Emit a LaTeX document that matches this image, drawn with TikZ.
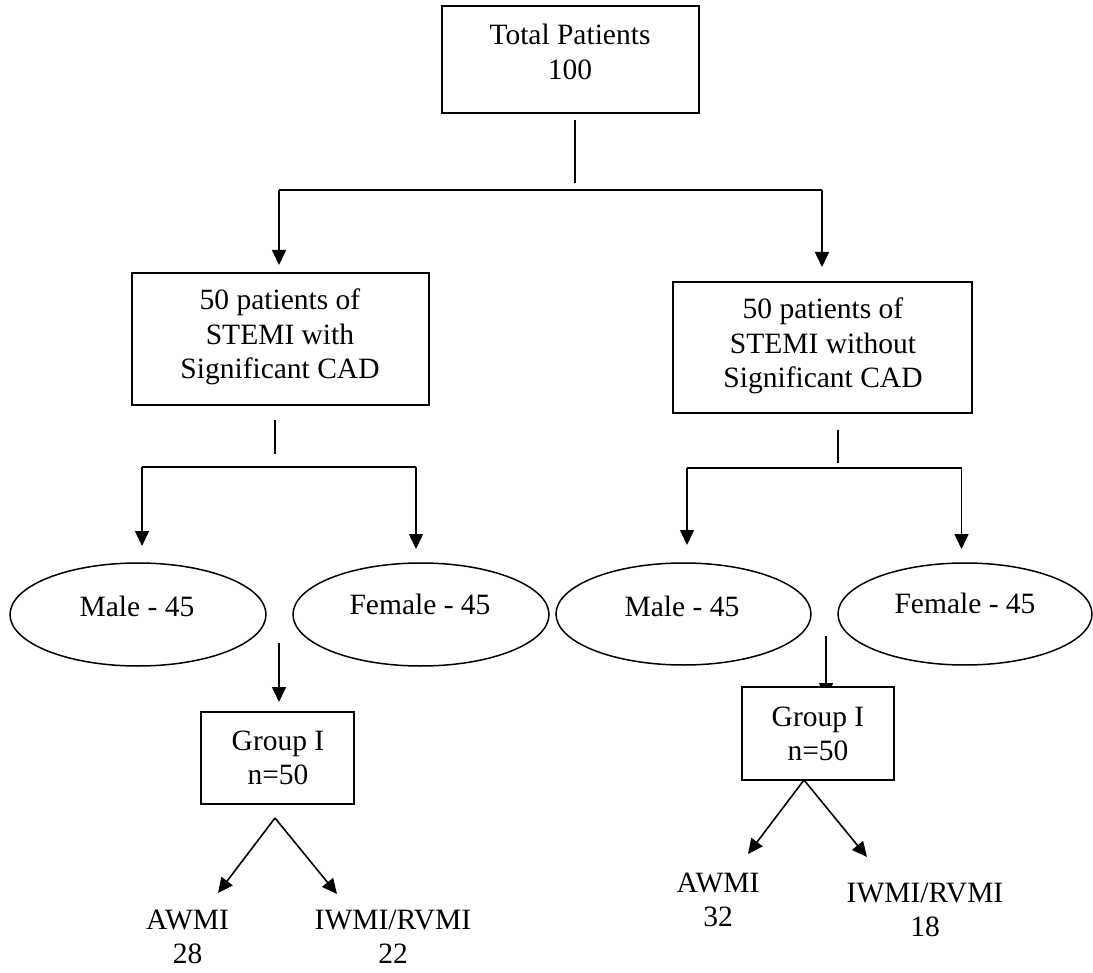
\documentclass[tikz,border=0pt]{standalone}
\usepackage{fontspec}
\setmainfont{Liberation Serif}
\usetikzlibrary{arrows.meta,shapes.geometric}
\newcommand{\mlines}[1]{\vtop{\halign{\hfil##\hfil\cr#1\crcr}}}
\begin{document}
\begin{tikzpicture}[x=1pt,y=-1pt,
  ln/.style={line width=1.6pt},
  arr/.style={line width=1.6pt,-{Triangle[length=15pt,width=14pt]}},
  boxn/.style={draw,line width=1.8pt,fill=white,rectangle,inner sep=0pt},
  ell/.style={draw,line width=1.5pt,ellipse,inner sep=0pt},
  txt/.style={anchor=base,inner sep=0pt,font=\fontsize{29.5}{34.5}\selectfont}]
\useasboundingbox (0,0) rectangle (1093,973);
\fill[white] (0,0) rectangle (1093,973);

% boxes
\node[boxn,minimum width=257pt,minimum height=107pt] (top) at (570.5,59.5) {};
\node[boxn,minimum width=297pt,minimum height=132pt] (boxL) at (280.5,339) {};
\node[boxn,minimum width=299pt,minimum height=131pt] (boxR) at (822.5,347.5) {};

% ellipses
\node[ell,minimum width=256pt,minimum height=103pt] (maleL) at (138,614.5) {};
\node[ell,minimum width=256pt,minimum height=103pt] (femL) at (421,614.5) {};
\node[ell,minimum width=255pt,minimum height=102pt] (maleR) at (683.5,614) {};
\node[ell,minimum width=254pt,minimum height=102pt] (femR) at (965,614) {};

% coordinates for connectors
\coordinate (a1) at (575,120); \coordinate (a2) at (575,183);
\coordinate (bl) at (279,190); \coordinate (br) at (822,190);
\coordinate (bltip) at (279,265); \coordinate (brtip) at (822,267);
\coordinate (c1) at (275,420); \coordinate (c2) at (275,454);
\coordinate (cl) at (142,467); \coordinate (cr) at (416,467);
\coordinate (cltip) at (142,546); \coordinate (crtip) at (416,549);
\coordinate (d1) at (838,430); \coordinate (d2) at (838,463.5);
\coordinate (dl) at (687,468); \coordinate (dr) at (961.5,468);
\coordinate (dltip) at (687,545); \coordinate (drtip) at (961.5,549);
\coordinate (gl1) at (279,643); \coordinate (gl2) at (279,702);
\coordinate (gr1) at (826,636); \coordinate (gr2) at (826,698);
\coordinate (apL) at (275,818); \coordinate (awL) at (218,893); \coordinate (iwL) at (337,894);
\coordinate (apR) at (804,780); \coordinate (awR) at (748,854); \coordinate (iwR) at (867,857);

\draw[ln] (a1) -- (a2);
\draw[ln] (bl) -- (br);
\draw[arr] (bl) -- (bltip);
\draw[arr] (br) -- (brtip);

\draw[ln] (c1) -- (c2);
\draw[ln] (cl) -- (cr);
\draw[arr] (cl) -- (cltip);
\draw[arr] (cr) -- (crtip);

\draw[ln] (d1) -- (d2);
\draw[ln] (dl) -- (dr);
\draw[arr] (dl) -- (dltip);
\draw[arr] (dr) -- (drtip);

\draw[arr] (gl1) -- (gl2);
\draw[arr] (gr1) -- (gr2);

% group boxes
\node[boxn,minimum width=153pt,minimum height=92pt] (grpL) at (277.5,758) {};
\node[boxn,minimum width=152pt,minimum height=93pt] (grpR) at (818,733.5) {};

\draw[arr] (apL) -- (awL);
\draw[arr] (apL) -- (iwL);
\draw[arr] (apR) -- (awR);
\draw[arr] (apR) -- (iwR);

% texts
\node[txt] (ttop) at (570,45) {\mlines{Total Patients\cr 100}};
\node[txt] (tboxL) at (280,310) {\mlines{50 patients of\cr STEMI with\cr Significant CAD}};
\node[txt] (tboxR) at (823,319) {\mlines{50 patients of\cr STEMI without\cr Significant CAD}};
\node[txt] (tmaleL) at (137,616) {Male - 45};
\node[txt] (tfemL) at (420,614) {Female - 45};
\node[txt] (tmaleR) at (682,616) {Male - 45};
\node[txt] (tfemR) at (965,613) {Female - 45};
\node[txt] (tgrpL) at (278,750) {\mlines{Group I\cr n=50}};
\node[txt] (tgrpR) at (818,726) {\mlines{Group I\cr n=50}};
\node[txt] (tawL) at (187.5,929) {\mlines{AWMI\cr 28}};
\node[txt] (tiwL) at (393,929) {\mlines{IWMI/RVMI\cr 22}};
\node[txt] (tawR) at (718,892) {\mlines{AWMI\cr 32}};
\node[txt] (tiwR) at (925,902) {\mlines{IWMI/RVMI\cr 18}};
\end{tikzpicture}
\end{document}
